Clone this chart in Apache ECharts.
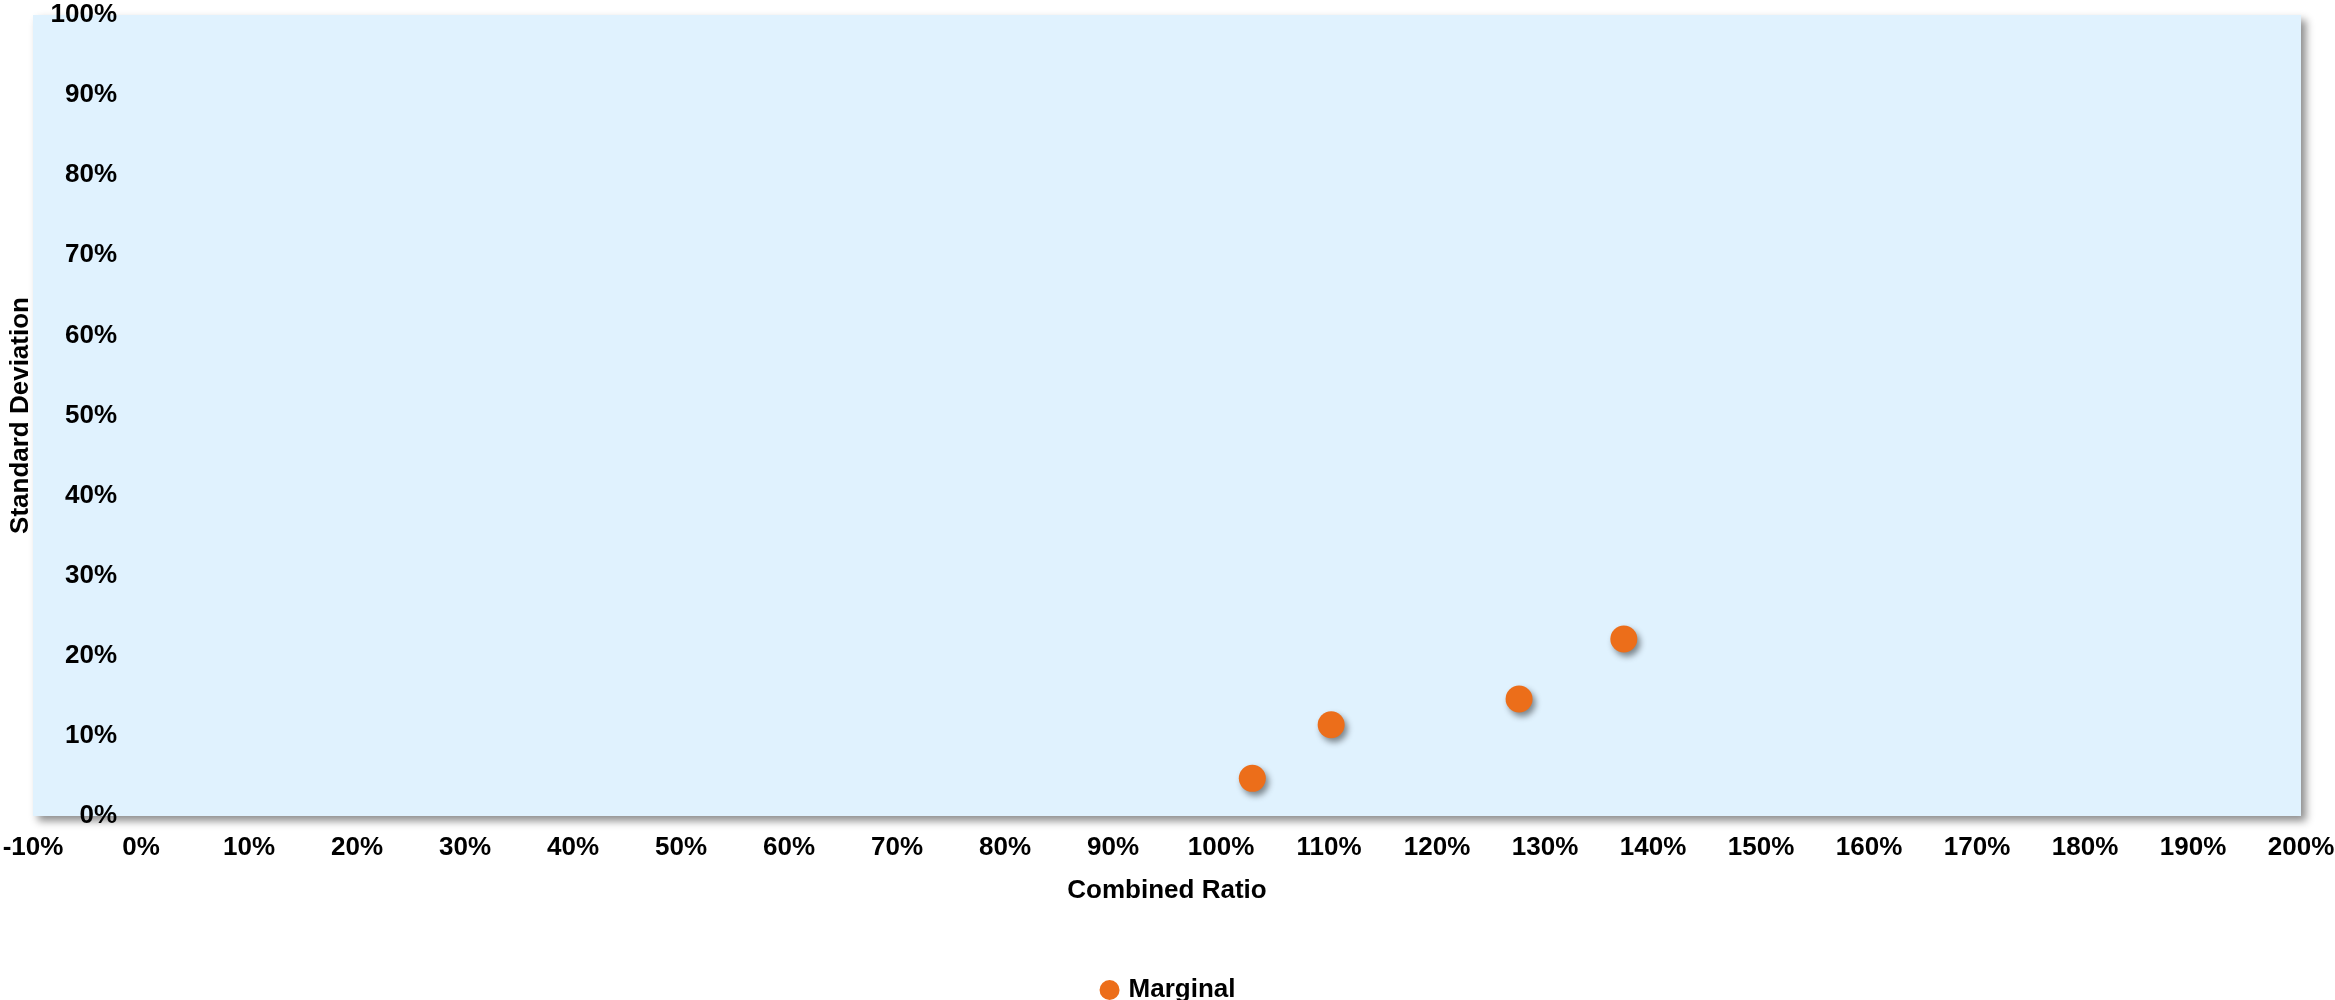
<!DOCTYPE html>
<html>
<head>
<meta charset="utf-8">
<style>
  html, body { margin: 0; padding: 0; background: #ffffff; }
  #chart { width: 2335px; height: 1000px; }
</style>
<script src="https://cdn.jsdelivr.net/npm/echarts@6/dist/echarts.min.js"></script>
</head>
<body>
<div id="chart"></div>
<script>
// Combined ratio (%) vs standard deviation (%) for the marginal segment
const seriesName = 'Marginal';
const combinedRatio = [102.9, 110.2, 127.6, 137.3];
const standardDeviation = [4.7, 11.4, 14.6, 22.1];

const xAxisTitle = 'Combined Ratio';
const yAxisTitle = 'Standard Deviation';

const FONT = '"Liberation Sans", Arial, Helvetica, sans-serif';
const points = combinedRatio.map((x, i) => [x, standardDeviation[i]]);

// plot box and x range; the vertical axis crosses the horizontal one at 0%
const GRID = { left: 33, right: 34, top: 15, bottom: 184 };
const X_MIN = -10, X_MAX = 200;
const plotWidth = 2335 - GRID.left - GRID.right;
const yAxisCross = plotWidth * (0 - X_MIN) / (X_MAX - X_MIN);

const chart = echarts.init(document.getElementById('chart'));
chart.setOption({
  animation: false,
  textStyle: { fontFamily: FONT },
  grid: {
    left: GRID.left, right: GRID.right, top: GRID.top, bottom: GRID.bottom,
    containLabel: false,
    outerBoundsMode: 'none',
    show: true,
    backgroundColor: '#E0F2FE',
    borderWidth: 0,
    shadowColor: 'rgba(0,0,0,0.45)',
    shadowBlur: 8,
    shadowOffsetX: 5,
    shadowOffsetY: 5
  },
  xAxis: {
    type: 'value',
    min: X_MIN, max: X_MAX, interval: 10,
    name: xAxisTitle,
    nameLocation: 'middle',
    nameGap: 62,
    nameTextStyle: { fontSize: 26, fontWeight: 'bold', color: '#000', fontFamily: FONT },
    axisLine: { show: false, onZero: false },
    axisTick: { show: false },
    splitLine: { show: false },
    axisLabel: {
      margin: 19,
      fontSize: 26, fontWeight: 'bold', color: '#000', fontFamily: FONT,
      formatter: v => v + '%'
    }
  },
  yAxis: {
    type: 'value',
    min: 0, max: 100, interval: 10,
    position: 'left',
    offset: -yAxisCross,
    name: yAxisTitle,
    nameLocation: 'middle',
    nameGap: 107,
    nameRotate: 90,
    nameTextStyle: { fontSize: 26, fontWeight: 'bold', color: '#000', fontFamily: FONT },
    axisLine: { show: false, onZero: false },
    axisTick: { show: false },
    splitLine: { show: false },
    axisLabel: {
      margin: 24,
      fontSize: 26, fontWeight: 'bold', color: '#000', fontFamily: FONT,
      formatter: v => v + '%'
    }
  },
  legend: {
    data: [{ name: seriesName, icon: 'circle' }],
    left: 'center',
    top: 972,
    itemWidth: 20, itemHeight: 20,
    textStyle: { fontSize: 26, fontWeight: 'bold', color: '#000', fontFamily: FONT, padding: [0, 0, 0, 4] }
  },
  series: [{
    name: seriesName,
    type: 'scatter',
    data: points,
    symbol: 'circle',
    symbolSize: 27,
    itemStyle: {
      color: '#EC6E1A',
      opacity: 1,
      shadowColor: 'rgba(0,0,0,0.45)',
      shadowBlur: 6,
      shadowOffsetX: 3,
      shadowOffsetY: 4
    }
  }]
});
</script>
</body>
</html>
